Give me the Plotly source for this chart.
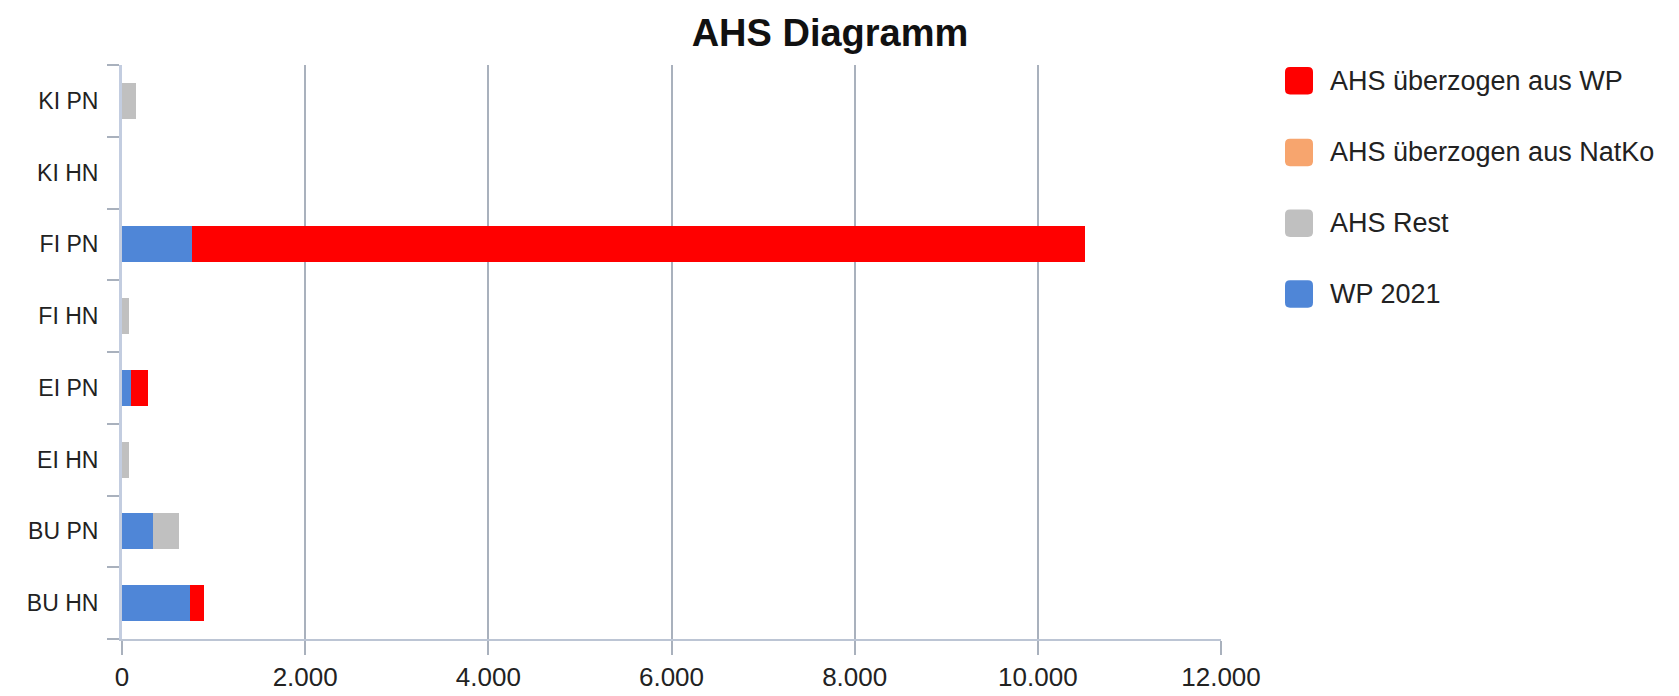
import plotly.graph_objects as go

categories = ["BU HN", "BU PN", "EI HN", "EI PN", "FI HN", "FI PN", "KI HN", "KI PN"]
wp_2021 = [740, 340, 0, 100, 0, 760, 0, 0]
ahs_rest = [0, 285, 75, 0, 75, 0, 0, 150]
ahs_natko = [0, 0, 0, 0, 0, 0, 0, 0]
ahs_wp = [155, 0, 0, 185, 0, 9760, 0, 0]

series_names = ["WP 2021", "AHS Rest", "AHS überzogen aus NatKo", "AHS überzogen aus WP"]
series_values = [wp_2021, ahs_rest, ahs_natko, ahs_wp]
series_colors = ["#4f86d7", "#c0c0c0", "#f7a56e", "#ff0000"]

x_ticks = [0, 2000, 4000, 6000, 8000, 10000, 12000]

W, H = 1679, 696
L, R, T, B = 114, 1213, 57, 641
FONT = "Liberation Sans, Arial, sans-serif"

fig = go.Figure()
for name, vals, col in zip(series_names, series_values, series_colors):
    fig.add_trace(go.Bar(
        y=categories, x=vals, name=name, orientation="h",
        marker=dict(color=col, line=dict(width=0)),
        showlegend=False,
    ))

# manual legend (large rounded swatches), top to bottom: reversed stack order
def px_x(p):
    return (p - L) / (R - L)

def px_y(p):
    return (B - p) / (B - T)

legend_rows = [73, 146, 218, 290]
shapes = []
annotations = []
for row, idx in zip(legend_rows, [3, 2, 1, 0]):
    x0, x1 = 1277, 1305
    y0, y1 = row - 14, row + 14
    r = 5
    path = (
        f"M {px_x(x0 + r)} {px_y(y0)} L {px_x(x1 - r)} {px_y(y0)} "
        f"Q {px_x(x1)} {px_y(y0)} {px_x(x1)} {px_y(y0 + r)} "
        f"L {px_x(x1)} {px_y(y1 - r)} Q {px_x(x1)} {px_y(y1)} {px_x(x1 - r)} {px_y(y1)} "
        f"L {px_x(x0 + r)} {px_y(y1)} Q {px_x(x0)} {px_y(y1)} {px_x(x0)} {px_y(y1 - r)} "
        f"L {px_x(x0)} {px_y(y0 + r)} Q {px_x(x0)} {px_y(y0)} {px_x(x0 + r)} {px_y(y0)} Z"
    )
    shapes.append(dict(type="path", xref="paper", yref="paper", path=path,
                       fillcolor=series_colors[idx], line=dict(width=0)))
    annotations.append(dict(xref="paper", yref="paper", x=px_x(1320), y=px_y(row),
                            xanchor="left", yanchor="middle", showarrow=False,
                            text=series_names[idx],
                            font=dict(family=FONT, size=27, color="#222222")))

fig.update_layout(
    width=W, height=H,
    margin=dict(l=L, r=W - R, t=T, b=H - B),
    paper_bgcolor="white", plot_bgcolor="white",
    barmode="stack", bargap=0.5,
    separators=",.",
    showlegend=False,
    title=dict(text="<b>AHS Diagramm</b>", x=822 / W, xref="container", xanchor="center",
               y=1 - 25 / H, yref="container", yanchor="middle",
               font=dict(family=FONT, size=38, color="#111111")),
    xaxis=dict(range=[0, 12000], tickvals=x_ticks, tickformat=",d",
               showgrid=True, gridcolor="#a9b1bd", gridwidth=2,
               showline=True, linecolor="#bcc5d4", linewidth=2,
               ticks="outside", ticklen=14, tickwidth=2, tickcolor="#a9b1bd",
               tickfont=dict(family=FONT, size=26, color="#222222"),
               zeroline=False, fixedrange=True),
    yaxis=dict(type="category", categoryorder="array", categoryarray=categories,
               showgrid=False, showline=True, linecolor="#c3cde0", linewidth=3,
               ticks="outside", tickson="boundaries", ticklen=12, tickwidth=2,
               tickcolor="#a9b1bd",
               tickfont=dict(family=FONT, size=23, color="#222222"),
               ticklabelstandoff=16,
               zeroline=False, fixedrange=True),
    shapes=shapes,
    annotations=annotations,
)

fig.write_html("out.html")
